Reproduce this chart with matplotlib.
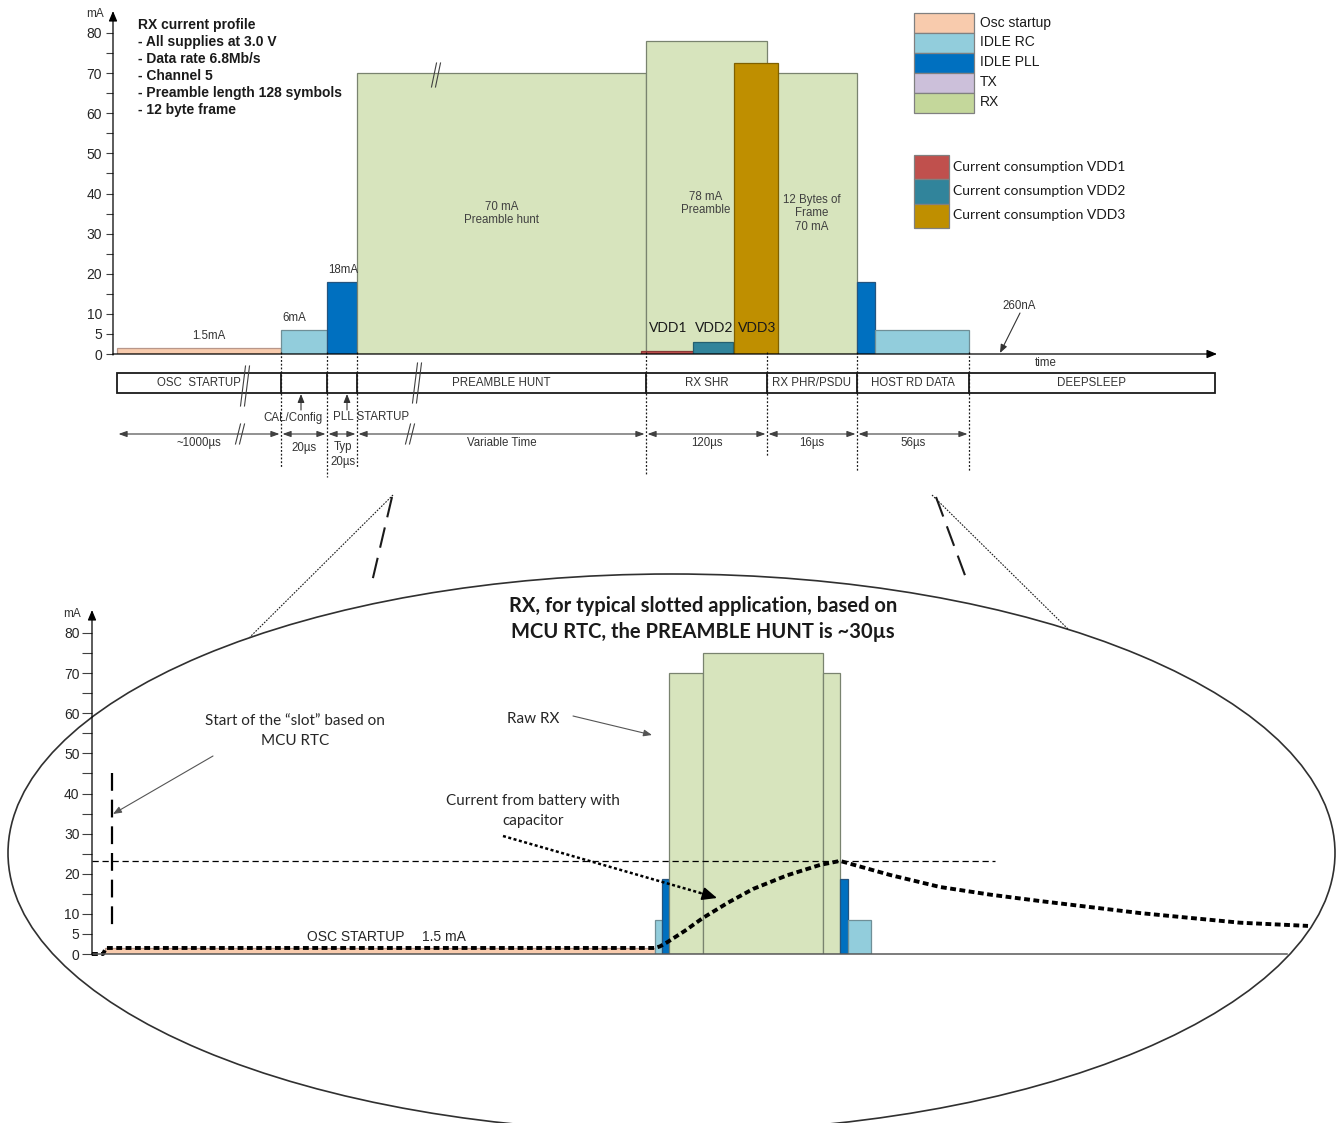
import matplotlib
matplotlib.use("Agg")
import matplotlib.pyplot as plt
from matplotlib.patches import Rectangle, Ellipse

plt.rcParams["font.family"] = ["Liberation Sans", "DejaVu Sans"]
CAL = ["Lato", "DejaVu Sans"]

W, H, DPI = 1338, 1123, 100

# ---------------- data ----------------
state_names = ["Osc startup", "IDLE RC", "IDLE PLL", "TX", "RX"]
vdd_names = ["Current consumption VDD1", "Current consumption VDD2",
             "Current consumption VDD3"]

# RX current profile: one bar per state of the sequence (mA)
seq_states = ["Osc startup", "IDLE RC", "IDLE PLL", "RX", "RX", "RX",
              "IDLE PLL", "IDLE RC"]
seq_current_ma = [1.5, 6, 18, 70, 78, 70, 18, 6]
seq_value_labels = ["1.5mA", "6mA", "18mA"]

# per-rail current during the RX SHR (mA)
vdd_rails = ["VDD1", "VDD2", "VDD3"]
vdd_current_ma = [0.8, 3, 72.5]

phase_names = ["OSC  STARTUP", "", "", "PREAMBLE HUNT", "RX SHR",
               "RX PHR/PSDU", "HOST RD DATA", "DEEPSLEEP"]
phase_durations = ["~1000µs", "20µs", "Typ\n20µs", "Variable Time",
                   "120µs", "16µs", "56µs"]
sleep_current_label = "260nA"

profile_notes = ["RX current profile", "- All supplies at 3.0 V",
                 "- Data rate 6.8Mb/s", "- Channel 5",
                 "- Preamble length 128 symbols", "- 12 byte frame"]

# slotted application profile (mA)
slot_states = ["Osc startup", "IDLE RC", "IDLE PLL", "RX", "RX", "RX",
               "IDLE PLL", "IDLE RC"]
slot_current_ma = [1.5, 8.5, 18.7, 70, 75, 70, 18.7, 8.5]
slot_edges_us = [13, 563, 570, 577, 611, 731, 748, 756, 779]

# battery current with a reservoir capacitor
batt_time_us = [0, 11, 14, 563, 568, 575, 593, 611, 636, 661, 695, 728,
                748, 798, 848, 898, 948, 998, 1048, 1098, 1148, 1216]
batt_current_ma = [0, 0, 1.5, 1.5, 1.9, 2.9, 5.8, 9.0, 12.8, 16.2, 19.6,
                   22.2, 23.2, 19.7, 16.7, 14.8, 13.2, 11.7, 10.2, 9.0,
                   7.8, 7.0]
batt_peak_ma = 23.2

# ---------------- styling / layout ----------------
fill = {"Osc startup": "#F8CBAD", "IDLE RC": "#92CDDC",
        "IDLE PLL": "#0070C0", "TX": "#CCC0DA", "RX": "#D7E4BD"}
legend_fill = dict(fill, RX="#C4D79B")
edge = {"Osc startup": "#B8978A", "IDLE RC": "#6F8F97",
        "IDLE PLL": "#24547F", "TX": "#8C8C8C", "RX": "#79836F"}
vdd_fill = ["#C0504D", "#31849B", "#BF8F00"]
vdd_edge = ["#8C3836", "#245F70", "#7F6000"]

PX_PER_MA = 4.0125
seq_spans = [(117, 281), (281, 327), (327, 357), (357, 646), (646, 767),
             (767, 857), (857, 875), (875, 969)]
vdd_spans = [(641, 693), (693, 733), (734, 778)]
value_label_x = [209, 294, 343]
phase_edges = [117, 281, 327, 357, 646, 767, 857, 969, 1215]

fig = plt.figure(figsize=(W / DPI, H / DPI), dpi=DPI)


def box(x0, y0, x1, y1):
    return [x0 / W, 1 - y1 / H, (x1 - x0) / W, (y1 - y0) / H]


def style_y(ax, length, pad):
    ax.set_yticks([0, 5, 10, 20, 30, 40, 50, 60, 70, 80])
    ax.set_yticks([15, 25, 35, 45, 55, 65, 75], minor=True)
    ax.tick_params(axis="y", which="both", length=length, width=0.8,
                   color="#404040", pad=pad, labelsize=10,
                   labelcolor="#262626")
    ax.tick_params(axis="x", bottom=False, labelbottom=False)
    for s in ax.spines.values():
        s.set_visible(False)
    ax.patch.set_visible(False)


# ---------------- top profile ----------------
TOP_BASE, TOP_TIP = 354, 14
top = fig.add_axes(box(113, TOP_TIP, 1215, TOP_BASE))
top.set_xlim(113, 1215)
top.set_ylim(0, (TOP_BASE - TOP_TIP) / PX_PER_MA)
style_y(top, 5, 3)

for st, val, (x0, x1) in zip(seq_states, seq_current_ma, seq_spans):
    top.bar(x0, val, width=x1 - x0, align="edge", color=fill[st],
            edgecolor=edge[st], linewidth=0.9, zorder=2)
for val, (x0, x1), fc, ec in zip(vdd_current_ma, vdd_spans, vdd_fill, vdd_edge):
    top.bar(x0, val, width=x1 - x0, align="edge", color=fc,
            edgecolor=ec, linewidth=0.9, zorder=3)

for lbl, lx, val in zip(seq_value_labels, value_label_x, seq_current_ma):
    top.annotate(lbl, xy=(lx, val), xytext=(0, 12), textcoords="offset pixels",
                 ha="center", va="center", fontsize=8.3, color="#333333")

# ---------------- slotted profile ----------------
BOT_BASE, BOT_TIP = 954, 613
bot = fig.add_axes(box(92, BOT_TIP, 1287, BOT_BASE))
bot.set_xlim(0, 1195)
bot.set_ylim(0, (BOT_BASE - BOT_TIP) / PX_PER_MA)
style_y(bot, 7, 2)

for i, (st, val) in enumerate(zip(slot_states, slot_current_ma)):
    x0, x1 = slot_edges_us[i], slot_edges_us[i + 1]
    bot.bar(x0, val, width=x1 - x0, align="edge", color=fill[st],
            edgecolor=edge[st], linewidth=0.9, zorder=2)

bot.plot([0, 903], [batt_peak_ma, batt_peak_ma], color="black", lw=0.9,
         linestyle=(0, (5, 3)), zorder=3, clip_on=False)
bot.plot(batt_time_us, batt_current_ma, color="black", lw=2.8,
         linestyle=(0, (1.5, 0.9)), dash_capstyle="butt",
         solid_joinstyle="round", zorder=4, clip_on=False)

# ---------------- annotation layer (pixel coordinates) ----------------
ov = fig.add_axes([0, 0, 1, 1])
ov.set_xlim(0, W)
ov.set_ylim(H, 0)
ov.axis("off")
ov.patch.set_visible(False)

AX = "#404040"
arrow_kw = dict(arrowstyle="-|>,head_length=0.6,head_width=0.25",
                color="black", lw=0.9, shrinkA=0, shrinkB=0)

# axis lines with arrow tips
ov.annotate("", xy=(113, 11), xytext=(113, 355), arrowprops=arrow_kw)
ov.annotate("", xy=(1217, 354), xytext=(113, 354), arrowprops=arrow_kw)
ov.text(95, 14, "mA", fontsize=8.5, ha="center", va="center", color="#333333")
ov.annotate("", xy=(92, 610), xytext=(92, 955), arrowprops=arrow_kw)
ov.plot([92, 1287], [954, 954], color="#595959", lw=1.1)
ov.text(72, 614, "mA", fontsize=8.5, ha="center", va="center", color="#333333")

# profile notes
for i, line in enumerate(profile_notes):
    ov.text(138, 25 + 17 * i, line, fontsize=10, fontweight="bold",
            ha="left", va="center", color="#1a1a1a")

# text inside the RX bars
ov.text(502, 213.5, "70 mA\nPreamble hunt", fontsize=8.3, ha="center",
        va="center", color="#404040", linespacing=1.2)
ov.text(706, 203.5, "78 mA\nPreamble", fontsize=8.3, ha="center",
        va="center", color="#404040", linespacing=1.2)
ov.text(812, 213.5, "12 Bytes of\nFrame\n70 mA", fontsize=8.3, ha="center",
        va="center", color="#404040", linespacing=1.2)
for rail, (x0, x1) in zip(vdd_rails, vdd_spans):
    ov.text((x0 + x1) / 2 + 1, 328, rail, fontsize=10, family=CAL,
            ha="center", va="center", color="#1a1a1a")


def slashes(x, y, h, dx=5, gap=4, lw=0.8):
    for k in (0, 1):
        xo = x + (k - 0.5) * gap
        ov.plot([xo - dx / 2, xo + dx / 2], [y + h / 2, y - h / 2],
                color=AX, lw=lw)


slashes(436, 75, 24)

# sleep current
ov.text(1019, 306, sleep_current_label, fontsize=8.3, ha="center",
        va="center", color="#333333")
ov.annotate("", xy=(1000, 353), xytext=(1020, 313),
            arrowprops=dict(arrowstyle="-|>,head_length=0.5,head_width=0.2",
                            color="#333333", lw=0.8, shrinkA=0, shrinkB=0))
ov.text(1046, 363, "time", fontsize=8.3, ha="center", va="center",
        color="#333333")

# legends
for i, name in enumerate(state_names):
    ov.add_patch(Rectangle((914, 12.5 + 20 * i), 60, 20,
                           facecolor=legend_fill[name], edgecolor="#808080",
                           lw=0.9))
    ov.text(980, 22.5 + 20 * i, name, fontsize=10, ha="left", va="center",
            color="#1a1a1a")
for i, name in enumerate(vdd_names):
    ov.add_patch(Rectangle((914, 154.5 + 24.6 * i), 35, 24.6,
                           facecolor=vdd_fill[i], edgecolor="#808080",
                           lw=0.9))
    ov.text(953, 167 + 24 * i, name, fontsize=10, family=CAL, ha="left",
            va="center", color="#1a1a1a")

# phase timeline
ov.add_patch(Rectangle((117, 373), 1215 - 117, 20, fill=False,
                       edgecolor="#1a1a1a", lw=1.3))
for x in phase_edges[1:-1]:
    ov.plot([x, x], [373, 393], color="#1a1a1a", lw=1.3)
for i, name in enumerate(phase_names):
    if name:
        cx = (phase_edges[i] + phase_edges[i + 1]) / 2
        ov.text(cx, 383.5, name, fontsize=8.3, ha="center", va="center",
                color="#333333")
slashes(245, 386, 40)
slashes(417, 383, 40)

# state annotations under the timeline
for x in (301, 347):
    ov.annotate("", xy=(x, 394), xytext=(x, 410),
                arrowprops=dict(arrowstyle="-|>,head_length=0.5,head_width=0.2",
                                color="#333333", lw=0.8, shrinkA=0, shrinkB=0))
ov.text(293, 418, "CAL/Config", fontsize=8.3, ha="center", va="center",
        color="#333333")
ov.text(371, 417, "PLL STARTUP", fontsize=8.3, ha="center", va="center",
        color="#333333")

# duration dimension lines
dim_kw = dict(arrowstyle="<|-|>,head_length=0.5,head_width=0.18",
              color="#404040", lw=0.8, shrinkA=0, shrinkB=0)
for i, lbl in enumerate(phase_durations):
    x0, x1 = phase_edges[i], phase_edges[i + 1]
    ov.annotate("", xy=(x0 + 1.5, 434), xytext=(x1 - 1.5, 434),
                arrowprops=dim_kw)
    cx = (x0 + x1) / 2
    if "\n" in lbl:
        ov.text(cx + 1, 454.5, lbl, fontsize=8.3, ha="center", va="center",
                color="#333333", linespacing=1.3)
    elif i == 1:
        ov.text(cx, 448, lbl, fontsize=8.3, ha="center", va="center",
                color="#333333")
    else:
        ov.text(cx, 443, lbl, fontsize=8.3, ha="center", va="center",
                color="#333333")
slashes(240, 434, 20)
slashes(410, 434, 20)

# dotted state boundaries
for x, y1 in [(281, 467), (327, 477), (357, 468), (646, 475), (767, 457),
              (857, 471), (969, 471)]:
    ov.plot([x, x], [352, y1], color="#1a1a1a", lw=0.9,
            linestyle=(0, (1.5, 1.5)))

# zoom-in guide lines
ov.plot([393, 250], [495, 637], color="#1a1a1a", lw=0.8, linestyle=(0, (1.5, 1.2)))
ov.plot([932, 1068], [495, 629], color="#1a1a1a", lw=0.8, linestyle=(0, (1.5, 1.2)))
ov.plot([392, 372], [497, 582], color="#1a1a1a", lw=1.5,
        linestyle=(0, (10, 5)), dash_capstyle="butt")
ov.plot([936, 966], [497, 578], color="#1a1a1a", lw=1.5,
        linestyle=(0, (10, 5)), dash_capstyle="butt")

# magnifier outline
ov.add_patch(Ellipse((671.5, 853), 1327, 558, fill=False,
                     edgecolor="#303030", lw=1.2))

# slotted-profile annotations
ov.text(703, 619, "RX, for typical slotted application, based on\n"
        "MCU RTC, the PREAMBLE HUNT is ~30µs", family=CAL, fontsize=14.5,
        fontweight="bold", ha="center", va="center", color="#1a1a1a",
        linespacing=1.32)
ov.text(295, 731, "Start of the \u201cslot\u201d based on\nMCU RTC", family=CAL,
        fontsize=11, ha="center", va="center", color="#262626",
        linespacing=1.5)
ov.annotate("", xy=(113, 814), xytext=(213, 756),
            arrowprops=dict(arrowstyle="-|>,head_length=0.5,head_width=0.2",
                            color="#555555", lw=0.8, shrinkA=0, shrinkB=0))
ov.plot([112, 112], [773, 933], color="black", lw=1.6,
        linestyle=(0, (8, 4)), dash_capstyle="butt")

ov.text(533, 719, "Raw RX", family=CAL, fontsize=11, ha="center",
        va="center", color="#262626")
ov.annotate("", xy=(652, 735), xytext=(573, 716),
            arrowprops=dict(arrowstyle="-|>,head_length=0.5,head_width=0.2",
                            color="#555555", lw=0.8, shrinkA=0, shrinkB=0))
ov.text(533, 811, "Current from battery with\ncapacitor", family=CAL,
        fontsize=11, ha="center", va="center", color="#262626",
        linespacing=1.5)
ov.plot([503, 704], [836, 894], color="black", lw=1.8,
        linestyle=(0, (1.2, 1.0)), dash_capstyle="butt")
ov.annotate("", xy=(717, 898), xytext=(702, 893.5),
            arrowprops=dict(arrowstyle="-|>,head_length=0.9,head_width=0.4",
                            color="black", lw=1.2, shrinkA=0, shrinkB=0))

ov.text(307, 937, "OSC STARTUP", fontsize=10, ha="left", va="center",
        color="#262626")
ov.text(422, 937, "1.5 mA", fontsize=10, ha="left", va="center",
        color="#262626")

fig.savefig("out.png", dpi=DPI)
